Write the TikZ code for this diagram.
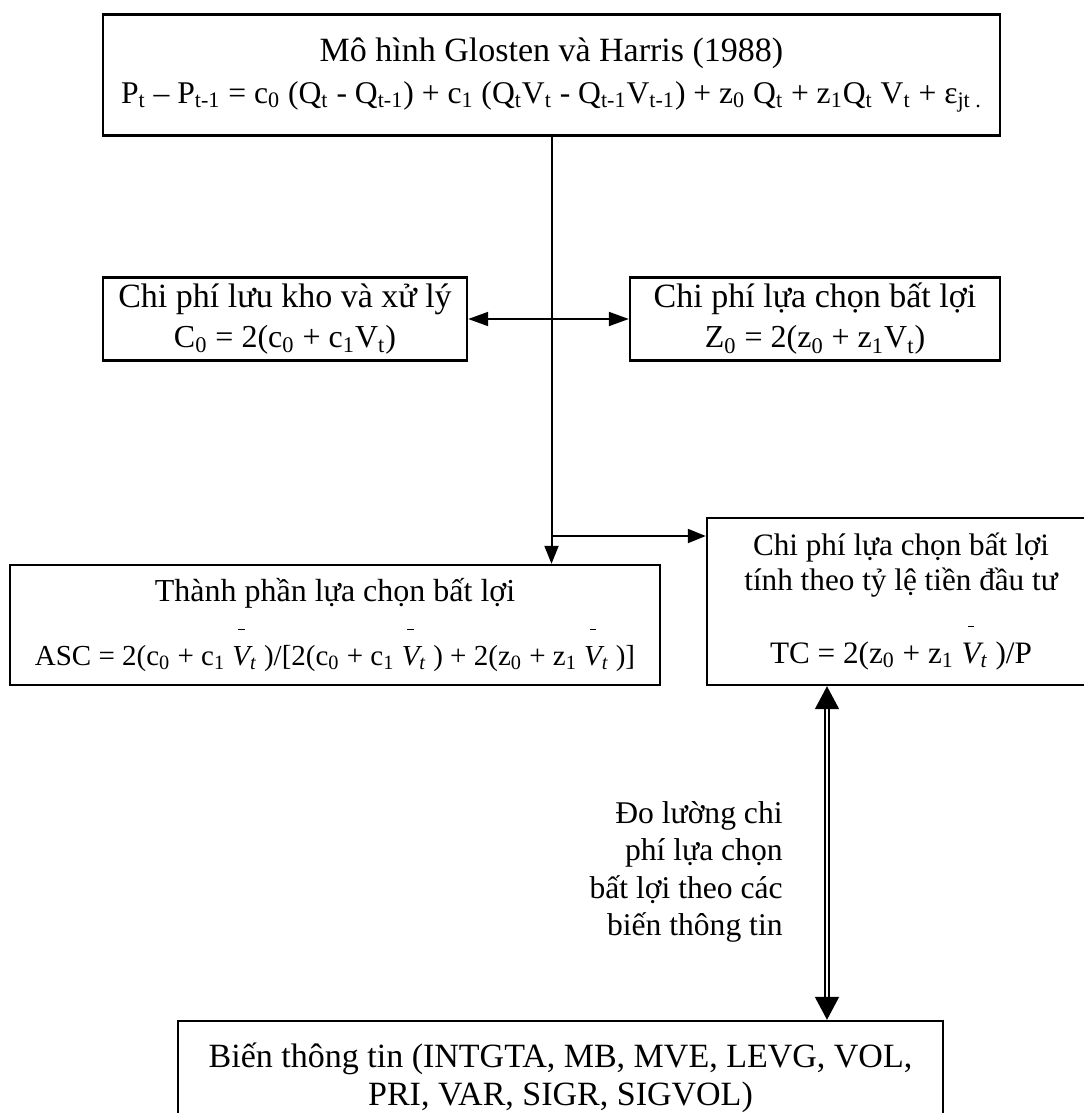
\documentclass[tikz,border=0pt]{standalone}
\usepackage{amsmath}
\usepackage{fontspec}
\setmainfont{Liberation Serif}
\usetikzlibrary{arrows.meta}
\newcommand{\sub}[1]{\textsubscript{#1}}
\newcommand{\vbar}{$\overset{\raisebox{5pt}{\rule{3.2pt}{0.5pt}}}{\text{\itshape V}}$\sub{\itshape t}}

\begin{document}
\begin{tikzpicture}[x=0.5pt,y=-0.5pt,
    box/.style={draw,line width=1.2pt,align=center,inner sep=0pt},
    arr/.style={line width=1pt,-{Triangle[length=9pt,width=7pt]}},
    darr/.style={line width=1pt,{Triangle[length=10pt,width=7pt]}-{Triangle[length=10pt,width=7pt]}},
    dbl/.style={double,line width=0.9pt,double distance=1.1pt,{Triangle[length=11.5pt,width=12pt]}-{Triangle[length=11.5pt,width=12pt]}}]
  \useasboundingbox (0,0) rectangle (1083,1113);
  \node[box,minimum width=448.5pt,minimum height=60.5pt,font=\fontsize{17}{21}\selectfont] (glosten) at (551.5,75)
    {Mô hình Glosten và Harris (1988)\\
     \fontsize{15.8}{21}\selectfont P\sub{t} – P\sub{t-1} = c\sub{0} (Q\sub{t} - Q\sub{t-1}) + c\sub{1} (Q\sub{t}V\sub{t} - Q\sub{t-1}V\sub{t-1}) + z\sub{0} Q\sub{t} + z\sub{1}Q\sub{t} V\sub{t} + ε\sub{jt .}};
  \node[box,minimum width=182pt,minimum height=41.5pt,font=\fontsize{17}{20}\selectfont] (luukho) at (285,319)
    {Chi phí lưu kho và xử lý\\ \fontsize{16}{20}\selectfont C\sub{0} = 2(c\sub{0} + c\sub{1}V\sub{t})};
  \node[box,minimum width=185pt,minimum height=41.5pt,font=\fontsize{17}{20}\selectfont] (batloi) at (815,319)
    {Chi phí lựa chọn bất lợi\\ \fontsize{16}{20}\selectfont Z\sub{0} = 2(z\sub{0} + z\sub{1}V\sub{t})};
  \node[box,minimum width=325pt,minimum height=60pt,font=\fontsize{16}{19}\selectfont] (asc) at (335,625)
    {Thành phần lựa chọn bất lợi\\[8pt]
     \fontsize{14.5}{19}\selectfont ASC = 2(c\sub{0} + c\sub{1} \vbar\ )/[2(c\sub{0} + c\sub{1} \vbar\ ) + 2(z\sub{0} + z\sub{1} \vbar\ )]};
  \node[box,minimum width=194pt,minimum height=83.5pt,font=\fontsize{15.6}{17.5}\selectfont] (tc) at (901,601.5)
    {Chi phí lựa chọn bất lợi\\ tính theo tỷ lệ tiền đầu tư\\[12pt]
     TC = 2(z\sub{0} + z\sub{1} \vbar\ )/P};
  \node[box,minimum width=382.5pt,minimum height=57pt,font=\fontsize{17}{19}\selectfont] (bien) at (560.5,1078)
    {Biến thông tin (INTGTA, MB, MVE, LEVG, VOL,\\ PRI, VAR, SIGR, SIGVOL)};
  \node[align=right,anchor=east,inner sep=0pt,font=\fontsize{15.8}{18.6}\selectfont] (do) at (783,872)
    {Đo lường chi\\ phí lựa chọn\\ bất lợi theo các\\ biến thông tin};
  \coordinate (fork) at (552,536);
  \coordinate (meas) at (827,0);
  \draw[arr] (glosten.south) -- (glosten.south |- asc.north);
  \draw[darr] (luukho.east) -- (batloi.west);
  \draw[arr] (fork) -- (fork -| tc.west);
  \draw[dbl] (meas |- tc.south) -- (meas |- bien.north);
\end{tikzpicture}
\end{document}
